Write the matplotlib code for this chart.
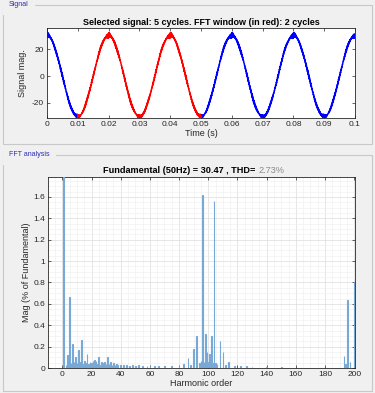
import numpy as np
import matplotlib
matplotlib.use('Agg')
import matplotlib.pyplot as plt
from matplotlib.patches import Rectangle
from matplotlib.ticker import MultipleLocator

# data
fund_freq = 50          # Hz
fund_mag = 30.47        # fundamental amplitude
thd = 2.73              # %
n_cycles = 5
win_start = 0.01        # FFT window (red part) in s
win_end = 0.05
first_sample = 35.5     # spike at t=0

# harmonic spectrum (% of fundamental), 0.5 order resolution
orders = [1, 2.5, 3.5, 5, 6, 7, 8, 9, 10, 11, 12, 13, 14, 15, 16, 17, 18, 19, 20,
          21, 22, 23, 24, 25, 26, 27, 28, 29, 30, 31, 32, 33, 34, 35, 36, 37, 38,
          40, 42, 44, 46, 48, 50, 52, 55, 58, 60, 63, 66, 70, 75, 80, 83, 86, 88,
          90, 92, 94, 95, 96, 97, 98, 99, 100, 101, 102, 103, 104, 105, 106, 108,
          110, 112, 114, 118, 122, 126, 130, 140, 150, 193, 194, 195.5, 197, 200]
mags = [100, 0.03, 0.12, 0.66, 0.05, 0.22, 0.06, 0.1, 0.05, 0.17, 0.06, 0.26, 0.04,
        0.07, 0.05, 0.13, 0.04, 0.06, 0.05, 0.07, 0.075, 0.07, 0.04, 0.1, 0.03, 0.06,
        0.05, 0.06, 0.04, 0.1, 0.04, 0.06, 0.03, 0.05, 0.03, 0.04, 0.03, 0.03, 0.025,
        0.03, 0.02, 0.025, 0.02, 0.03, 0.02, 0.015, 0.02, 0.015, 0.02, 0.015, 0.02,
        0.03, 0.04, 0.09, 0.03, 0.18, 0.3, 0.05, 0.07, 1.62, 0.06, 0.32, 0.15, 0.06,
        0.13, 0.3, 0.05, 1.56, 0.05, 0.04, 0.25, 0.15, 0.03, 0.06, 0.02, 0.02, 0.02,
        0.01, 0.01, 0.01, 0.11, 0.04, 0.64, 0.06, 0.8]

# rebuild the time signal from the harmonics read above
# (fundamental as cosine, the rest as sines so they don't all pile up on the peaks)
t = np.linspace(0, n_cycles / fund_freq, 4001)
sig = np.zeros_like(t)
for h, m in zip(orders, mags):
    if h == 1:
        sig += fund_mag * m / 100.0 * np.cos(2 * np.pi * h * fund_freq * t)
    else:
        sig += fund_mag * m / 100.0 * np.sin(2 * np.pi * h * fund_freq * t)
sig[0] = first_sample

bg = '#f0f0f0'
txt = '#262626'
plt.rcParams['font.family'] = ['Liberation Sans', 'DejaVu Sans']
plt.rcParams['axes.unicode_minus'] = False

fig = plt.figure(figsize=(3.75, 3.93), dpi=100)
fig.patch.set_facecolor(bg)

# panel frames
def panel(y0, y1, label):
    W, H = 375.0, 393.0
    fig.add_artist(Rectangle((3 / W, 1 - y1 / H), 369 / W, (y1 - y0) / H,
                             transform=fig.transFigure, fill=False,
                             edgecolor='#c8c8c8', linewidth=0.8))
    fig.text(9 / W, 1 - y0 / H, label, fontsize=5, color='#2b2bb8',
             va='center', ha='left', backgroundcolor=bg)

panel(5, 144, 'Signal')
panel(155, 391, 'FFT analysis')

# ---- top plot: signal
ax1 = fig.add_axes([0.1253, 0.6997, 0.8213, 0.229])
red = (t >= win_start) & (t <= win_end)
blue1 = t <= win_start
blue2 = t >= win_end
ax1.plot(t[blue1], sig[blue1], color='#0000ff', linewidth=1.1)
ax1.plot(t[blue2], sig[blue2], color='#0000ff', linewidth=1.1)
ax1.plot(t[red], sig[red], color='#ff0000', linewidth=1.1)
ax1.set_xlim(0, 0.1)
ax1.set_ylim(-31.5, 36)
ax1.set_xticks(np.arange(0, 0.101, 0.01))
ax1.set_xticklabels(['0'] + ['%.2f' % v for v in np.arange(0.01, 0.095, 0.01)] + ['0.1'])
ax1.set_yticks([-20, 0, 20])
ax1.set_title('Selected signal: 5 cycles. FFT window (in red): 2 cycles',
              fontsize=6.5, fontweight='bold', pad=2.5)
ax1.set_xlabel('Time (s)', fontsize=6.5, color=txt, labelpad=1)
ax1.set_ylabel('Signal mag.', fontsize=6.5, color=txt, labelpad=4)

# ---- bottom plot: FFT
ax2 = fig.add_axes([0.128, 0.0636, 0.8187, 0.486])
ax2.bar(orders, mags, width=0.45, color='#8cb8dd', edgecolor='#78a8d6',
        linewidth=0.8, zorder=3)
ax2.set_xlim(-9.8, 200.5)
ax2.set_ylim(0, 1.787)
ax2.xaxis.set_major_locator(MultipleLocator(20))
ax2.xaxis.set_minor_locator(MultipleLocator(5))
ax2.yaxis.set_major_locator(MultipleLocator(0.2))
ax2.yaxis.set_minor_locator(MultipleLocator(0.05))
ax2.set_yticks(np.arange(0, 1.7, 0.2))
ax2.set_yticklabels(['0', '0.2', '0.4', '0.6', '0.8', '1', '1.2', '1.4', '1.6'])
ax2.grid(which='major', color='#dcdcdc', linewidth=0.5, zorder=0)
ax2.grid(which='minor', color='#eeeeee', linewidth=0.4, zorder=0)
ax2.set_axisbelow(True)
ax2.set_xlabel('Harmonic order', fontsize=6.5, color=txt, labelpad=1)
ax2.set_ylabel('Mag (% of Fundamental)', fontsize=6.5, color=txt, labelpad=2)

# title in two parts (value partly greyed under the toolbar)
ax2.text(0.684, 1.012, 'Fundamental (%dHz) = %.2f , THD= ' % (fund_freq, fund_mag),
         transform=ax2.transAxes, ha='right', va='bottom', fontsize=6.6,
         fontweight='bold', color='black')
ax2.text(0.684, 1.012, '%.2f%%' % thd, transform=ax2.transAxes, ha='left',
         va='bottom', fontsize=6.6, color='#8a8a8a')

for ax in (ax1, ax2):
    ax.set_facecolor('white')
    ax.tick_params(which='both', direction='in', labelsize=6, colors=txt,
                   length=2.5, width=0.5, top=True, right=True, pad=2)
    ax.tick_params(which='minor', length=0)
    for s in ax.spines.values():
        s.set_color('#262626')
        s.set_linewidth(0.6)

fig.savefig('out.png', dpi=100, facecolor=bg)
